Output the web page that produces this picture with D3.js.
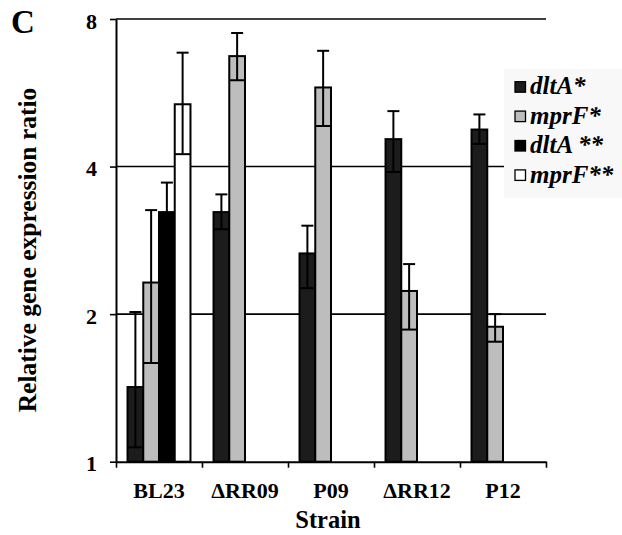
<!DOCTYPE html>
<html>
<head>
<meta charset="utf-8">
<script src="https://cdn.jsdelivr.net/npm/d3@7"></script>
<style>
  html, body { margin: 0; padding: 0; background: #fff; }
  svg { display: block; }
  text { font-family: "Liberation Serif", "Times New Roman", serif; font-weight: bold; fill: #000; }
</style>
</head>
<body>
<svg id="chart" width="622" height="535"></svg>
<script>
// Relative gene expression of dltA and mprF per strain (log2 axis)
const strains = ["BL23", "\u0394RR09", "P09", "\u0394RR12", "P12"];
const seriesNames = ["dltA*", "mprF*", "dltA **", "mprF**"];
const seriesColors = ["#1c1c1c", "#bdbdbd", "#000000", "#ffffff"];

// mean ratios per series (null = not measured)
const dltA1 = [1.42, 3.23, 2.66, 4.55, 4.76];
const mprF1 = [2.32, 6.72, 5.80, 2.23, 1.885];
const dltA2 = [3.23, null, null, null, null];
const mprF2 = [5.36, null, null, null, null];

// error bar ends (lower, upper) per series
const dltA1Lo = [1.07, 2.98, 2.26, 3.90, 4.45];
const dltA1Hi = [2.02, 3.51, 3.03, 5.19, 5.11];
const mprF1Lo = [1.59, 6.00, 4.84, 1.86, 1.757];
const mprF1Hi = [3.26, 7.49, 6.89, 2.53, 2.00];
const dltA2Lo = [2.81, null, null, null, null];
const dltA2Hi = [3.71, null, null, null, null];
const mprF2Lo = [4.24, null, null, null, null];
const mprF2Hi = [6.83, null, null, null, null];

const yTicks = [1, 2, 4, 8];
const yTitle = "Relative gene expression ratio";
const xTitle = "Strain";
const panelLabel = "C";

const means = [dltA1, mprF1, dltA2, mprF2];
const lows = [dltA1Lo, mprF1Lo, dltA2Lo, mprF2Lo];
const highs = [dltA1Hi, mprF1Hi, dltA2Hi, mprF2Hi];

const svg = d3.select("#chart");
const plotL = 116, plotR = 546, plotT = 19, plotB = 461.7;

const x = d3.scaleBand().domain(strains).range([plotL, plotR]).padding(0);
const bw = x.bandwidth();
const xs = d3.scaleBand().domain(d3.range(seriesNames.length))
  .range([bw * 0.134, bw * 0.866]).padding(0);
const y = d3.scaleLog().base(2).domain([1, 8]).range([plotB, plotT]);

// horizontal gridlines (drawn behind the bars)
svg.append("g").selectAll("line")
  .data(yTicks.filter(v => v > 1))
  .join("line")
  .attr("x1", plotL).attr("x2", plotR)
  .attr("y1", d => y(d)).attr("y2", d => y(d))
  .attr("stroke", "#000").attr("stroke-width", 1.6);

// bars
const rows = [];
means.forEach((arr, si) => arr.forEach((v, ci) => {
  if (v != null) rows.push({ si, ci, v, lo: lows[si][ci], hi: highs[si][ci] });
}));

svg.append("g").selectAll("rect")
  .data(rows)
  .join("rect")
  .attr("x", d => x(strains[d.ci]) + xs(d.si))
  .attr("y", d => y(d.v))
  .attr("width", xs.bandwidth())
  .attr("height", d => plotB - y(d.v))
  .attr("fill", d => seriesColors[d.si])
  .attr("stroke", "#000").attr("stroke-width", 2);

// error bars: stem, narrow top cap, lower cap across the bar
const eb = svg.append("g").attr("stroke", "#000").attr("stroke-width", 2);
rows.forEach(d => {
  const x0 = x(strains[d.ci]) + xs(d.si);
  const cx = x0 + xs.bandwidth() / 2;
  eb.append("line").attr("x1", cx).attr("x2", cx).attr("y1", y(d.hi)).attr("y2", y(d.lo));
  eb.append("line").attr("x1", cx - 6).attr("x2", cx + 6).attr("y1", y(d.hi)).attr("y2", y(d.hi));
  eb.append("line").attr("x1", x0).attr("x2", x0 + xs.bandwidth()).attr("y1", y(d.lo)).attr("y2", y(d.lo));
});

// y axis
const yAxis = svg.append("g").attr("transform", `translate(${plotL},0)`)
  .call(d3.axisLeft(y).tickValues(yTicks).tickFormat(d3.format("d")).tickSize(6).tickSizeOuter(0).tickPadding(13));
yAxis.select(".domain").attr("stroke", "#000").attr("stroke-width", 2);
yAxis.selectAll(".tick line").attr("stroke", "#000").attr("stroke-width", 1.6);
yAxis.selectAll(".tick text").attr("font-size", 22).attr("font-family", "Liberation Serif, serif")
  .attr("font-weight", "bold").attr("dy", "0.42em").attr("fill", "#000");

// x axis with ticks at category boundaries
const xEdge = d3.scaleLinear().domain([0, strains.length]).range([plotL, plotR]);
const xAxis = svg.append("g").attr("transform", `translate(0,${plotB})`)
  .call(d3.axisBottom(xEdge).tickValues(d3.range(strains.length + 1)).tickFormat("").tickSize(6).tickSizeOuter(0));
xAxis.select(".domain").attr("stroke", "#000").attr("stroke-width", 2);
xAxis.selectAll(".tick line").attr("stroke", "#000").attr("stroke-width", 1.6);

svg.append("g").selectAll("text")
  .data(strains)
  .join("text")
  .attr("x", d => x(d) + bw / 2)
  .attr("y", 498.3)
  .attr("text-anchor", "middle")
  .attr("font-size", 22)
  .text(d => d);

// axis titles
svg.append("text")
  .attr("x", 328).attr("y", 528)
  .attr("text-anchor", "middle").attr("font-size", 24.5)
  .text(xTitle);

svg.append("text")
  .attr("transform", "translate(36,250) rotate(-90)")
  .attr("text-anchor", "middle").attr("font-size", 25.5)
  .text(yTitle);

svg.append("text")
  .attr("x", 11).attr("y", 33.3)
  .attr("font-size", 33)
  .text(panelLabel);

// legend
const lg = svg.append("g");
lg.append("rect").attr("x", 504).attr("y", 69).attr("width", 118).attr("height", 129).attr("fill", "#f8f8f8");
const items = lg.selectAll("g.item")
  .data(seriesNames)
  .join("g")
  .attr("transform", (d, i) => `translate(515,${94.3 + i * 29.4})`);
items.append("rect")
  .attr("x", 0).attr("y", -12.6).attr("width", 10.5).attr("height", 10.5)
  .attr("fill", (d, i) => seriesColors[i])
  .attr("stroke", "#000").attr("stroke-width", 1.3);
items.append("text")
  .attr("x", 15).attr("y", 0)
  .attr("font-size", 25).attr("font-style", "italic")
  .text(d => d);
</script>
</body>
</html>
